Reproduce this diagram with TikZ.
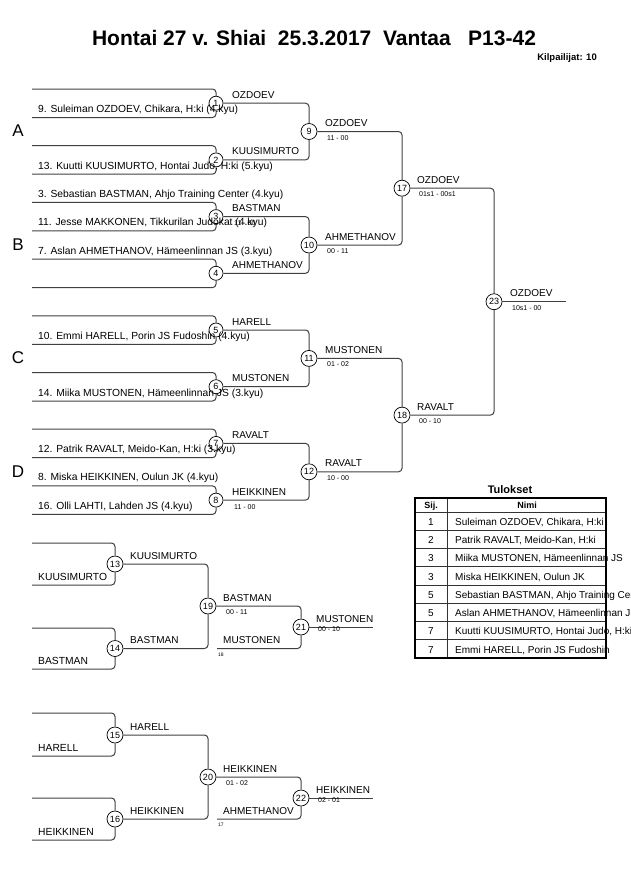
\documentclass[tikz,border=0pt]{standalone}
\usepackage{fontspec}
\setmainfont{Liberation Sans}
\begin{document}
\begin{tikzpicture}[x=1pt,y=-1pt,
  br/.style={draw=black!75, line width=1pt, rounded corners=3.5pt},
  mc/.style={circle, draw=black, line width=0.7pt, inner sep=0.5pt, minimum size=14pt, font=\fontsize{9}{9}\selectfont},
  mcb/.style={mc, minimum size=16pt},
  nm/.style={anchor=base west, inner sep=0, font=\fontsize{10.3}{12}\selectfont},
  wl/.style={anchor=base west, inner sep=0, font=\fontsize{10}{12}\selectfont},
  sc/.style={anchor=base west, inner sep=0, font=\fontsize{7}{8}\selectfont},
  tinyl/.style={anchor=base west, inner sep=0, font=\fontsize{5}{6}\selectfont},
  grp/.style={anchor=center, inner sep=0, font=\fontsize{17}{18}\selectfont},
  cell/.style={anchor=base west, inner sep=0, font=\fontsize{10}{12}\selectfont},
  tline/.style={draw=black!80, line width=0.7pt},
]
\useasboundingbox (0,0) rectangle (630,891);

% ---------- title ----------
\node[anchor=base, inner sep=0, font=\fontsize{21}{24}\selectfont\bfseries] (title) at (314,46) {Hontai 27 v. Shiai\ \ 25.3.2017\ \ Vantaa\ \ \ P13-42};
\node[anchor=base east, inner sep=0, font=\fontsize{9.5}{11}\selectfont\bfseries] (kilp) at (597,60) {Kilpailijat: 10};

% ---------- group letters ----------
\node[grp] (gA) at (18,131) {A};
\node[grp] (gB) at (18,245) {B};
\node[grp] (gC) at (18,358) {C};
\node[grp] (gD) at (18,472) {D};

% ---------- main bracket circles ----------
\node[mc] (m1) at (216,103.2) {1};
\node[mc] (m2) at (216,159.9) {2};
\node[mc] (m3) at (216,216.6) {3};
\node[mc] (m4) at (216,273.3) {4};
\node[mc] (m5) at (216,330.0) {5};
\node[mc] (m6) at (216,386.7) {6};
\node[mc] (m7) at (216,443.4) {7};
\node[mc] (m8) at (216,500.1) {8};
\node[mcb] (m9) at (309,131.5) {9};
\node[mcb] (m10) at (309,245.0) {10};
\node[mcb] (m11) at (309,358.4) {11};
\node[mcb] (m12) at (309,471.8) {12};
\node[mcb] (m17) at (402,188.2) {17};
\node[mcb] (m18) at (402,415.1) {18};
\node[mcb] (m23) at (494,301.7) {23};

% ---------- slot coordinates ----------
\coordinate (s1a) at (32,89.0);   \coordinate (s1b) at (32,117.5);
\coordinate (s2a) at (32,145.7);  \coordinate (s2b) at (32,174.2);
\coordinate (s3a) at (32,202.4);  \coordinate (s3b) at (32,230.9);
\coordinate (s4a) at (32,259.1);  \coordinate (s4b) at (32,287.6);
\coordinate (s5a) at (32,315.8);  \coordinate (s5b) at (32,344.3);
\coordinate (s6a) at (32,372.5);  \coordinate (s6b) at (32,401.0);
\coordinate (s7a) at (32,429.2);  \coordinate (s7b) at (32,457.7);
\coordinate (s8a) at (32,485.9);  \coordinate (s8b) at (32,514.4);
\coordinate (fin) at (566,301.7);

% first round lines
\foreach \i in {1,...,8}{
  \draw[br] (s\i a) -- (s\i a -| m\i) -- (m\i);
  \draw[br] (s\i b) -- (s\i b -| m\i) -- (m\i);
}
% later rounds
\draw[br] (m1) -- (m1 -| m9) -- (m9);
\draw[br] (m2) -- (m2 -| m9) -- (m9);
\draw[br] (m3) -- (m3 -| m10) -- (m10);
\draw[br] (m4) -- (m4 -| m10) -- (m10);
\draw[br] (m5) -- (m5 -| m11) -- (m11);
\draw[br] (m6) -- (m6 -| m11) -- (m11);
\draw[br] (m7) -- (m7 -| m12) -- (m12);
\draw[br] (m8) -- (m8 -| m12) -- (m12);
\draw[br] (m9) -- (m9 -| m17) -- (m17);
\draw[br] (m10) -- (m10 -| m17) -- (m17);
\draw[br] (m11) -- (m11 -| m18) -- (m18);
\draw[br] (m12) -- (m12 -| m18) -- (m18);
\draw[br] (m17) -- (m17 -| m23) -- (m23);
\draw[br] (m18) -- (m18 -| m23) -- (m23);
\draw[br] (m23) -- (fin);

% competitor names
\node[nm] (n1b) at (38,112.5) {9. Suleiman OZDOEV, Chikara, H:ki (4.kyu)};
\node[nm] (n2b) at (38,169.2) {13. Kuutti KUUSIMURTO, Hontai Judo, H:ki (5.kyu)};
\node[nm] (n3a) at (38,197.4) {3. Sebastian BASTMAN, Ahjo Training Center (4.kyu)};
\node[nm] (n3b) at (38,225.9) {11. Jesse MAKKONEN, Tikkurilan Judokat (4.kyu)};
\node[nm] (n4a) at (38,254.1) {7. Aslan AHMETHANOV, H\"ameenlinnan JS (3.kyu)};
\node[nm] (n5b) at (38,339.3) {10. Emmi HARELL, Porin JS Fudoshin (4.kyu)};
\node[nm] (n6b) at (38,396.0) {14. Miika MUSTONEN, H\"ameenlinnan JS (3.kyu)};
\node[nm] (n7b) at (38,452.7) {12. Patrik RAVALT, Meido-Kan, H:ki (3.kyu)};
\node[nm] (n8a) at (38,480.9) {8. Miska HEIKKINEN, Oulun JK (4.kyu)};
\node[nm] (n8b) at (38,509.4) {16. Olli LAHTI, Lahden JS (4.kyu)};

% winner labels round 1
\node[wl] (w1) at (232,98.2) {OZDOEV};
\node[wl] (w2) at (232,154.9) {KUUSIMURTO};
\node[wl] (w3) at (232,211.6) {BASTMAN};
\node[wl] (w4) at (232,268.3) {AHMETHANOV};
\node[wl] (w5) at (232,325.0) {HARELL};
\node[wl] (w6) at (232,381.7) {MUSTONEN};
\node[wl] (w7) at (232,438.4) {RAVALT};
\node[wl] (w8) at (232,495.1) {HEIKKINEN};
\node[sc] (p3) at (234,225.6) {11 - 00};
\node[sc] (p8) at (234,509.6) {11 - 00};
% round 2
\node[wl] (w9) at (325,126.5) {OZDOEV};
\node[sc] (p9) at (327,140.0) {11 - 00};
\node[wl] (w10) at (325,240.0) {AHMETHANOV};
\node[sc] (p10) at (327,253.5) {00 - 11};
\node[wl] (w11) at (325,353.4) {MUSTONEN};
\node[sc] (p11) at (327,366.9) {01 - 02};
\node[wl] (w12) at (325,466.8) {RAVALT};
\node[sc] (p12) at (327,480.3) {10 - 00};
% round 3
\node[wl] (w17) at (417,183.2) {OZDOEV};
\node[sc] (p17) at (419,196.7) {01s1 - 00s1};
\node[wl] (w18) at (417,410.1) {RAVALT};
\node[sc] (p18) at (419,423.6) {00 - 10};
% final
\node[wl] (w23) at (510,296.7) {OZDOEV};
\node[sc] (p23) at (512,310.2) {10s1 - 00};

% ---------- repechage 1 ----------
\node[mcb] (m13) at (115,564) {13};
\node[mcb] (m14) at (115,648.5) {14};
\node[mcb] (m19) at (208,606) {19};
\node[mcb] (m21) at (301,627) {21};
\coordinate (s13a) at (32,543);  \coordinate (s13b) at (32,585);
\coordinate (s14a) at (32,628);  \coordinate (s14b) at (32,669);
\coordinate (r21b) at (217,648.5);
\coordinate (fin21) at (373,627);
\draw[br] (s13a) -- (s13a -| m13) -- (m13);
\draw[br] (s13b) -- (s13b -| m13) -- (m13);
\draw[br] (s14a) -- (s14a -| m14) -- (m14);
\draw[br] (s14b) -- (s14b -| m14) -- (m14);
\draw[br] (m13) -- (m13 -| m19) -- (m19);
\draw[br] (m14) -- (m14 -| m19) -- (m19);
\draw[br] (m19) -- (m19 -| m21) -- (m21);
\draw[br] (r21b) -- (r21b -| m21) -- (m21);
\draw[br] (m21) -- (fin21);
\node[nm] (n13b) at (38,580) {KUUSIMURTO};
\node[nm] (n14b) at (38,664) {BASTMAN};
\node[wl] (w13) at (130,559) {KUUSIMURTO};
\node[wl] (w14) at (130,643.5) {BASTMAN};
\node[wl] (w19) at (223,601) {BASTMAN};
\node[sc] (p19) at (226,614.5) {00 - 11};
\node[wl] (w21b) at (223,643.5) {MUSTONEN};
\node[tinyl] (t18) at (218,656) {18};
\node[wl] (w21) at (316,622) {MUSTONEN};
\node[sc] (p21) at (318,631) {00 - 10};

% ---------- repechage 2 ----------
\node[mcb] (m15) at (115,735) {15};
\node[mcb] (m16) at (115,819) {16};
\node[mcb] (m20) at (208,777) {20};
\node[mcb] (m22) at (301,798) {22};
\coordinate (s15a) at (32,713);  \coordinate (s15b) at (32,756);
\coordinate (s16a) at (32,798);  \coordinate (s16b) at (32,840);
\coordinate (r22b) at (217,819);
\coordinate (fin22) at (373,798);
\draw[br] (s15a) -- (s15a -| m15) -- (m15);
\draw[br] (s15b) -- (s15b -| m15) -- (m15);
\draw[br] (s16a) -- (s16a -| m16) -- (m16);
\draw[br] (s16b) -- (s16b -| m16) -- (m16);
\draw[br] (m15) -- (m15 -| m20) -- (m20);
\draw[br] (m16) -- (m16 -| m20) -- (m20);
\draw[br] (m20) -- (m20 -| m22) -- (m22);
\draw[br] (r22b) -- (r22b -| m22) -- (m22);
\draw[br] (m22) -- (fin22);
\node[nm] (n15b) at (38,751) {HARELL};
\node[nm] (n16b) at (38,835) {HEIKKINEN};
\node[wl] (w15) at (130,730) {HARELL};
\node[wl] (w16) at (130,814) {HEIKKINEN};
\node[wl] (w20) at (223,772) {HEIKKINEN};
\node[sc] (p20) at (226,785.5) {01 - 02};
\node[wl] (w22b) at (223,814) {AHMETHANOV};
\node[tinyl] (t17) at (218,826.5) {17};
\node[wl] (w22) at (316,793) {HEIKKINEN};
\node[sc] (p22) at (318,802) {02 - 01};

% ---------- results table ----------
\node[anchor=base, inner sep=0, font=\fontsize{11}{13}\selectfont\bfseries] (tul) at (510,493) {Tulokset};
\begin{scope}
\clip (0,0) rectangle (630,891);
\foreach \k/\pl/\nam in {1/1/{Suleiman OZDOEV, Chikara, H:ki},
                         2/2/{Patrik RAVALT, Meido-Kan, H:ki},
                         3/3/{Miika MUSTONEN, H\"ameenlinnan JS},
                         4/3/{Miska HEIKKINEN, Oulun JK},
                         5/5/{Sebastian BASTMAN, Ahjo Training Center},
                         6/5/{Aslan AHMETHANOV, H\"ameenlinnan JS},
                         7/7/{Kuutti KUUSIMURTO, Hontai Judo, H:ki},
                         8/7/{Emmi HARELL, Porin JS Fudoshin}}{
  \node[anchor=base, inner sep=0, font=\fontsize{10}{12}\selectfont] (tp\k) at (431,512+18.25*\k-5) {\pl};
  \node[cell] (tn\k) at (455,512+18.25*\k-5) {\nam};
}
\end{scope}
\node[anchor=base, inner sep=0, font=\fontsize{9}{11}\selectfont\bfseries] (hsij) at (431,508) {Sij.};
\node[anchor=base, inner sep=0, font=\fontsize{9}{11}\selectfont\bfseries] (hnimi) at (527,508) {Nimi};
\foreach \k in {0,...,7}{
  \draw[tline] (415,512+18.25*\k) -- (606,512+18.25*\k);
}
\draw[tline] (447,498) -- (447,658);
\draw[line width=1.6pt] (415,498) rectangle (606,658);
\end{tikzpicture}
\end{document}
